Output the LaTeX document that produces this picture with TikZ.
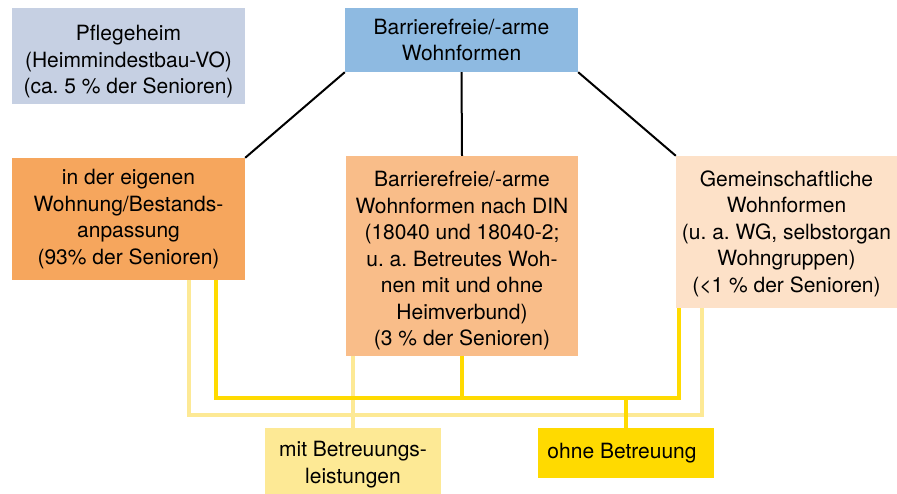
\documentclass[tikz,border=0pt]{standalone}
\usepackage{fontspec}
\setmainfont{TeX Gyre Heros}
\usepackage{xcolor}
\definecolor{heimblau}{HTML}{C6D0E3}
\definecolor{kopfblau}{HTML}{8EBAE1}
\definecolor{orangedunkel}{HTML}{F6A65D}
\definecolor{orangemittel}{HTML}{F9BD89}
\definecolor{orangehell}{HTML}{FDE1C8}
\definecolor{gelbhell}{HTML}{FDE995}
\definecolor{gelbdunkel}{HTML}{FFDA00}
\frenchspacing
\newcommand{\tiefer}[2]{\raisebox{-#1}[\height][\depth]{\begin{tabular}{@{}c@{}}#2\end{tabular}}}

\begin{document}
\begin{tikzpicture}[x=1pt, y=-1pt, inner sep=0pt]
		\tikzstyle{every node}=[align=center, font=\fontsize{21}{26.5}\selectfont]
		\tikzstyle{box}=[rectangle, fill=#1]
		\tikzstyle{ast}=[line width=2pt, black]
		\tikzstyle{mitlinie}=[line width=3.5pt, gelbhell]
		\tikzstyle{ohnelinie}=[line width=3.5pt, gelbdunkel]
			\useasboundingbox (0,0) rectangle (897,494);

			\node[box=heimblau, minimum width=233pt, minimum height=96pt] (heim) at (128.5,56) {\tiefer{6pt}{Pflegeheim\\(Heimmindestbau-VO)\\(ca. 5 \% der Senioren)}};
			\node[box=kopfblau, minimum width=233pt, minimum height=64pt] (kopf) at (461.5,40) {Barrierefreie/-arme\\Wohnformen};
			\node[box=orangedunkel, minimum width=233pt, minimum height=122pt] (eigen) at (128.5,219) {in der eigenen\\Wohnung/Bestands-\\anpassung\\(93\% der Senioren)};
			\node[box=orangemittel, minimum width=232pt, minimum height=200pt] (din) at (462,256) {\tiefer{5pt}{Barrierefreie/-arme\\Wohnformen nach DIN\\(18040 und 18040-2;\\u. a. Betreutes Woh-\\nen mit und ohne\\Heimverbund)\\(3 \% der Senioren)}};
			\node[box=orangehell, minimum width=221pt, minimum height=152pt] (gemein) at (786.5,232) {\tiefer{2pt}{Gemeinschaftliche\\Wohnformen\\(u. a. WG, selbstorgan\\Wohngruppen)\\(<1 \% der Senioren)}};
			\node[box=gelbhell, minimum width=176pt, minimum height=66pt] (mit) at (353,461) {\tiefer{3.5pt}{mit Betreuungs-\\leistungen}};
			\node[box=gelbdunkel, minimum width=176pt, minimum height=50pt] (ohne) at (626,453) {ohne Betreuung\hspace*{8pt}};

			\coordinate (mitL) at (189,415);
			\coordinate (mitR) at (702,415);
			\coordinate (ohneL) at (216,398);
			\coordinate (ohneR) at (679,398);

			\draw[ast] (kopf.south west) -- (eigen.north east);
			\draw[ast] (kopf.south) -- (din.north);
			\draw[ast] (kopf.south east) -- (gemein.north west);

			\draw[mitlinie] (eigen.south -| mitL) -- (mitL) -- (mitR) -- (gemein.south -| mitR);
			\draw[mitlinie] (din.south -| mit.north) -- (mit.north);
			\draw[ohnelinie] (eigen.south -| ohneL) -- (ohneL) -- (ohneR) -- (gemein.south -| ohneR);
			\draw[ohnelinie] (din.south) -- (din.south |- ohneL);
			\draw[ohnelinie] (ohne.north |- ohneL) -- (ohne.north);
		\end{tikzpicture}
\end{document}
